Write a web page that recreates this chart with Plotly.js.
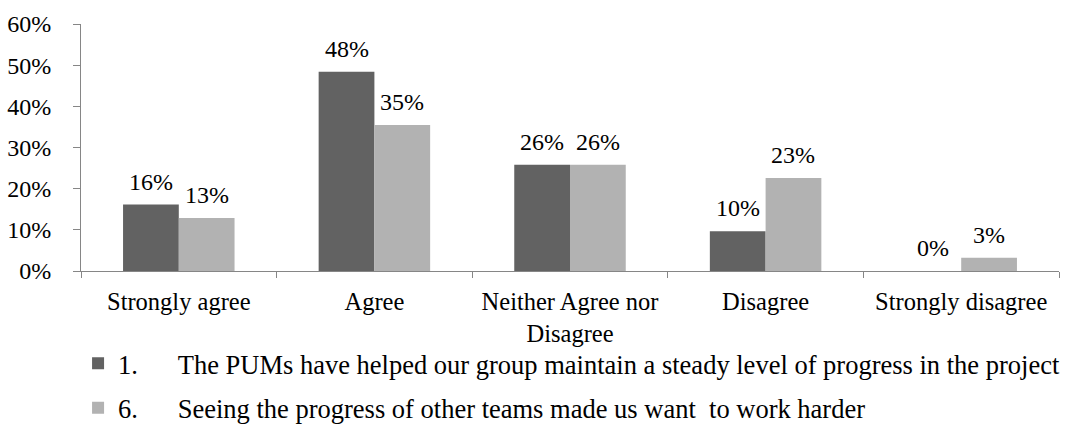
<!DOCTYPE html>
<html>
<head>
<meta charset="utf-8">
<script src="https://cdn.plot.ly/plotly-3.0.1.min.js"></script>
<style>
html,body{margin:0;padding:0;background:#fff;}
#chart{width:1070px;height:442px;}
</style>
</head>
<body>
<div id="chart"></div>
<script>
var categories = ["Strongly agree", "Agree", "Neither Agree nor<br>Disagree", "Disagree", "Strongly disagree"];
var series1Name = "1.\u00A0\u00A0\u00A0\u00A0\u00A0\u00A0The PUMs have helped our group maintain a steady level of progress in the project";
var series2Name = "6.\u00A0\u00A0\u00A0\u00A0\u00A0\u00A0Seeing the progress of other teams made us want\u00A0 to work harder";
var series1Values = [16.13, 48.39, 25.81, 9.68, 0];
var series2Values = [12.90, 35.48, 25.81, 22.58, 3.23];
var yTickVals = [0, 10, 20, 30, 40, 50, 60];
var yTickText = ["0%", "10%", "20%", "30%", "40%", "50%", "60%"];

var fontFam = "Liberation Serif, Times New Roman, serif";
var FS = 24;       // value labels and y ticks
var FS_CAT = 24.5; // category labels
var FS_LEG = 26.5; // legend
var W = 1070, H = 442, ML = 81, MR = 11, MT = 24, MB = 161;
var bargap = 0.43;
var plotW = W - ML - MR;
var barW = plotW / categories.length * (1 - bargap) / 2;

var traces = [
  {type: "bar", x: categories, y: series1Values, name: series1Name, legendgroup: "a",
   marker: {color: "#626262"}, hoverinfo: "none"},
  {type: "bar", x: categories, y: series2Values, name: series2Name, legendgroup: "b",
   marker: {color: "#b2b2b2"}, hoverinfo: "none"}
];

var annotations = [];
[series1Values, series2Values].forEach(function (vals, s) {
  vals.forEach(function (v, i) {
    annotations.push({
      x: categories[i], y: v, xref: "x", yref: "y",
      text: Math.round(v) + "%", showarrow: false,
      xanchor: "center", yanchor: "bottom",
      xshift: (s === 0 ? -1 : 1) * barW / 2, yshift: 8,
      font: {family: fontFam, size: FS, color: "#000"}
    });
  });
});

var layout = {
  width: W, height: H,
  margin: {l: ML, r: MR, t: MT, b: MB},
  paper_bgcolor: "#fff", plot_bgcolor: "#fff",
  font: {family: fontFam, size: FS, color: "#000"},
  barmode: "group", bargap: bargap, bargroupgap: 0,
  showlegend: true,
  annotations: annotations,
  legend: {x: -0.003, xanchor: "left", y: -0.2774, yanchor: "top", orientation: "v",
           traceorder: "grouped", tracegroupgap: 7, bgcolor: "rgba(0,0,0,0)",
           font: {family: fontFam, size: FS_LEG, color: "#000"}, itemwidth: 30},
  xaxis: {type: "category", tickson: "boundaries", ticks: "outside", ticklen: 6, tickcolor: "#868686",
          showline: true, linecolor: "#868686", linewidth: 1, showgrid: false, zeroline: false,
          ticklabelstandoff: 9, tickangle: 0,
          tickfont: {family: fontFam, size: FS_CAT, color: "#000"}, automargin: false},
  yaxis: {range: [0, 60], tickmode: "array", tickvals: yTickVals, ticktext: yTickText,
          ticks: "outside", ticklen: 7, ticklabelstandoff: 17,
          tickcolor: "#868686", showline: true, linecolor: "#868686", linewidth: 1,
          showgrid: false, zeroline: false, tickfont: {family: fontFam, size: FS, color: "#000"},
          automargin: false}
};
Plotly.newPlot("chart", traces, layout, {displayModeBar: false, staticPlot: true});
</script>
</body>
</html>
